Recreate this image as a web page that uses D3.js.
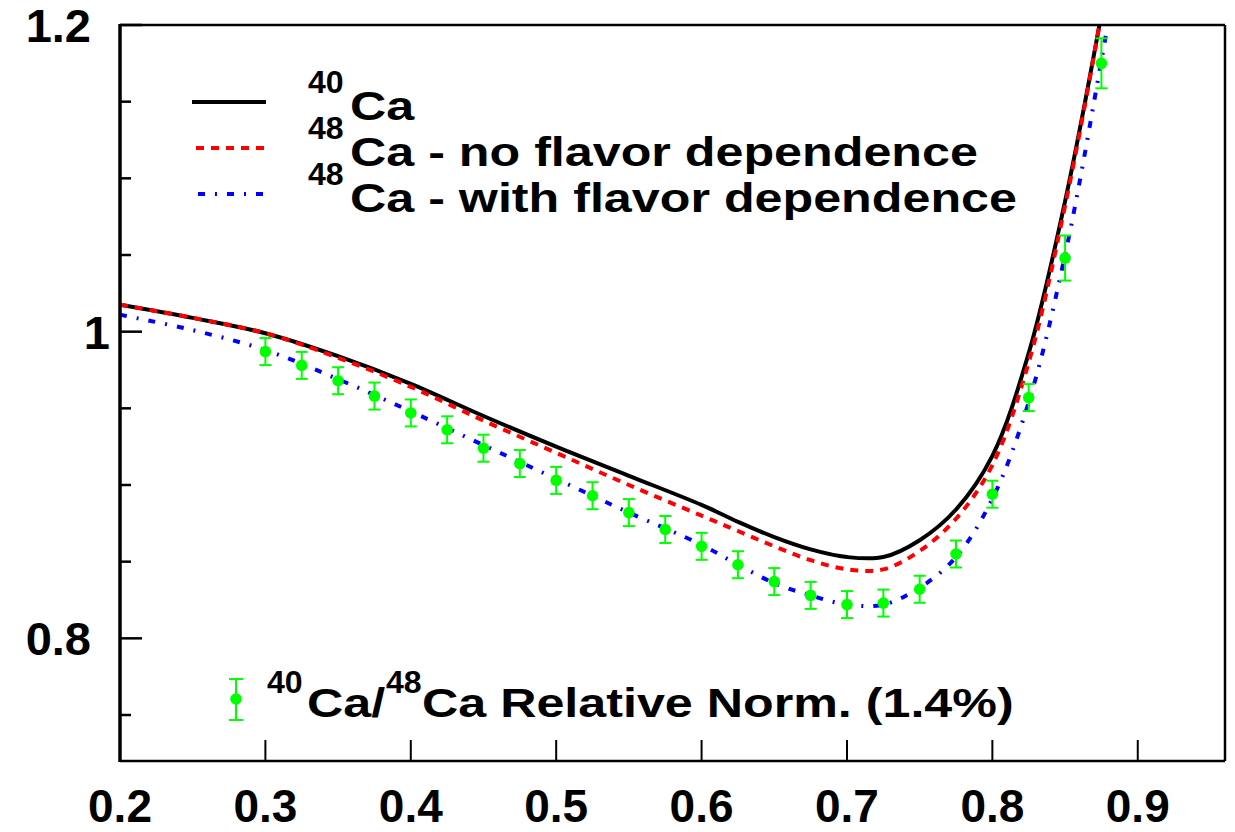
<!DOCTYPE html>
<html>
<head>
<meta charset="utf-8">
<script src="https://cdnjs.cloudflare.com/ajax/libs/d3/7.8.5/d3.min.js"></script>
<style>
  html, body { margin: 0; padding: 0; background: #fff; }
  svg { display: block; }
  text { font-family: "Liberation Sans", Arial, Helvetica, sans-serif; font-weight: bold; fill: #000; }
</style>
</head>
<body>
<svg id="chart" width="1235" height="832"></svg>
<script>
// ---------------- data ----------------
const xTickValues = [0.2, 0.3, 0.4, 0.5, 0.6, 0.7, 0.8, 0.9];
const xTickLabels = ["0.2", "0.3", "0.4", "0.5", "0.6", "0.7", "0.8", "0.9"];
const yMajorValues = [0.8, 1.0, 1.2];
const yMajorLabels = ["0.8", "1", "1.2"];
const yMinorValues = [0.75, 0.85, 0.9, 0.95, 1.05, 1.1, 1.15];

const curveX =      [0.2,    0.25,  0.3,   0.35,  0.4,   0.45,  0.5,   0.55,  0.6,   0.625, 0.65,  0.675, 0.7,   0.725, 0.75,  0.775, 0.8,   0.825, 0.85,  0.875, 0.89];
const ca40 =        [1.0176, 1.009, 0.999, 0.984, 0.966, 0.945, 0.925, 0.906, 0.887, 0.876, 0.866, 0.858, 0.853, 0.853, 0.864, 0.884, 0.919, 0.986, 1.085, 1.207, 1.29];
const ca48NoFlav =  [1.0176, 1.009, 0.999, 0.983, 0.964, 0.942, 0.921, 0.900, 0.880, 0.870, 0.860, 0.851, 0.845, 0.845, 0.857, 0.878, 0.913, 0.980, 1.082, 1.207, 1.29];
const ca48Flav =    [1.011,  1.001, 0.988, 0.969, 0.948, 0.926, 0.904, 0.882, 0.861, 0.848, 0.836, 0.828, 0.822, 0.822, 0.833, 0.853, 0.891, 0.954, 1.050, 1.177, 1.26];

const dataX =   [0.3, 0.325, 0.35, 0.375, 0.4, 0.425, 0.45, 0.475, 0.5, 0.525, 0.55, 0.575, 0.6, 0.625, 0.65, 0.675, 0.7, 0.725, 0.75, 0.775, 0.8, 0.825, 0.85, 0.875];
const dataY =   [0.987, 0.978, 0.968, 0.958, 0.947, 0.936, 0.924, 0.914, 0.903, 0.893, 0.882, 0.871, 0.860, 0.848, 0.837, 0.828, 0.822, 0.823, 0.832, 0.855, 0.894, 0.957, 1.048, 1.175];
const dataErr = [0.0088, 0.0088, 0.0088, 0.0088, 0.0088, 0.0088, 0.0088, 0.0088, 0.0088, 0.0088, 0.0088, 0.0088, 0.0088, 0.0088, 0.0088, 0.0088, 0.0088, 0.0088, 0.0088, 0.0088, 0.0088, 0.0088, 0.0147, 0.0163];

const legendSup = ["40", "48", "48"];
const legendText = ["Ca", "Ca - no flavor dependence", "Ca - with flavor dependence"];
const dataLegendParts = ["40", "Ca/", "48", "Ca Relative Norm. (1.4%)"];

// ---------------- layout ----------------
const L = 120, R = 1225, T = 25, B = 761;
const svg = d3.select("#chart");
const x = d3.scaleLinear().domain([0.2, 0.96]).range([L, R]);
const y = d3.scaleLinear().domain([0.72, 1.2]).range([B, T]);

const series = [
  { vals: ca40, color: "#000000", dash: null },
  { vals: ca48NoFlav, color: "#ff0000", dash: "8,7" },
  { vals: ca48Flav, color: "#0000ff", dash: "7,10,2,10" }
];

svg.append("defs").append("clipPath").attr("id", "plotclip")
  .append("rect").attr("x", L).attr("y", T).attr("width", R - L).attr("height", B - T);

const line = d3.line().x(d => x(d[0])).y(d => y(d[1])).curve(d3.curveCatmullRom.alpha(0.5));
const plot = svg.append("g").attr("clip-path", "url(#plotclip)");

series.forEach(s => {
  plot.append("path")
    .datum(curveX.map((cx, i) => [cx, s.vals[i]]))
    .attr("d", line)
    .attr("fill", "none")
    .attr("stroke", s.color)
    .attr("stroke-width", 4)
    .attr("stroke-dasharray", s.dash);
});

// data points
const green = "#00ff00";
const pts = plot.append("g");
dataX.forEach((dx, i) => {
  const cx = x(dx), cy = y(dataY[i]);
  const y1 = y(dataY[i] + dataErr[i]), y2 = y(dataY[i] - dataErr[i]);
  pts.append("line").attr("x1", cx).attr("x2", cx).attr("y1", y1).attr("y2", y2)
    .attr("stroke", green).attr("stroke-width", 2);
  pts.append("line").attr("x1", cx - 6).attr("x2", cx + 6).attr("y1", y1).attr("y2", y1)
    .attr("stroke", green).attr("stroke-width", 2);
  pts.append("line").attr("x1", cx - 6).attr("x2", cx + 6).attr("y1", y2).attr("y2", y2)
    .attr("stroke", green).attr("stroke-width", 2);
  pts.append("circle").attr("cx", cx).attr("cy", cy).attr("r", 5.8).attr("fill", green);
});

// ---------------- axes ----------------
const ax = svg.append("g");
ax.append("line").attr("x1", L).attr("x2", R).attr("y1", T).attr("y2", T).attr("stroke", "#000").attr("stroke-width", 2.5);
ax.append("line").attr("x1", R).attr("x2", R).attr("y1", T).attr("y2", B).attr("stroke", "#000").attr("stroke-width", 2.5);
ax.append("line").attr("x1", L).attr("x2", R).attr("y1", B).attr("y2", B).attr("stroke", "#000").attr("stroke-width", 2.5);
ax.append("line").attr("x1", L).attr("x2", L).attr("y1", T - 1).attr("y2", B + 1).attr("stroke", "#000").attr("stroke-width", 3.5);

xTickValues.forEach((v, i) => {
  ax.append("line").attr("x1", x(v)).attr("x2", x(v)).attr("y1", B).attr("y2", B - 21)
    .attr("stroke", "#000").attr("stroke-width", 2);
  ax.append("text").attr("x", x(v)).attr("y", 822).attr("text-anchor", "middle")
    .style("font-size", "46px").text(xTickLabels[i]);
});
yMajorValues.forEach((v, i) => {
  ax.append("line").attr("x1", L).attr("x2", L + 22).attr("y1", y(v)).attr("y2", y(v))
    .attr("stroke", "#000").attr("stroke-width", 2.5);
  const lx = yMajorLabels[i] === "1" ? 110 : 91;
  ax.append("text").attr("x", lx).attr("y", y(v) + 17).attr("text-anchor", "end")
    .style("font-size", "47px").text(yMajorLabels[i]);
});
yMinorValues.forEach(v => {
  ax.append("line").attr("x1", L).attr("x2", L + 11).attr("y1", y(v)).attr("y2", y(v))
    .attr("stroke", "#000").attr("stroke-width", 2.5);
});

// ---------------- legend ----------------
const sx = 1.256;
const legRows = [120, 166, 212];
const legLineStart = [192, 196, 198];
series.forEach((s, i) => {
  const ly = legRows[i] - 18;
  svg.append("line").attr("x1", legLineStart[i]).attr("x2", 266).attr("y1", ly).attr("y2", ly)
    .attr("stroke", s.color).attr("stroke-width", 4).attr("stroke-dasharray", s.dash);
  svg.append("text").attr("x", 308).attr("y", legRows[i] - 27)
    .style("font-size", "32px").text(legendSup[i]);
  svg.append("g").attr("transform", `translate(350,${legRows[i]}) scale(${sx},1)`)
    .append("text").attr("x", 0).attr("y", 0).style("font-size", "40px").text(legendText[i]);
});

const mlx = 236, mly = 699;
svg.append("line").attr("x1", mlx).attr("x2", mlx).attr("y1", mly - 20).attr("y2", mly + 21).attr("stroke", green).attr("stroke-width", 2);
svg.append("line").attr("x1", mlx - 7).attr("x2", mlx + 7).attr("y1", mly - 20).attr("y2", mly - 20).attr("stroke", green).attr("stroke-width", 2);
svg.append("line").attr("x1", mlx - 7).attr("x2", mlx + 7).attr("y1", mly + 21).attr("y2", mly + 21).attr("stroke", green).attr("stroke-width", 2);
svg.append("circle").attr("cx", mlx).attr("cy", mly).attr("r", 5.8).attr("fill", green);

svg.append("text").attr("x", 267).attr("y", 693).style("font-size", "32px").text(dataLegendParts[0]);
svg.append("g").attr("transform", `translate(307,717) scale(${sx},1)`)
  .append("text").style("font-size", "40px").text(dataLegendParts[1]);
svg.append("text").attr("x", 386).attr("y", 693).style("font-size", "32px").text(dataLegendParts[2]);
svg.append("g").attr("transform", `translate(422,717) scale(${sx},1)`)
  .append("text").style("font-size", "40px").text(dataLegendParts[3]);
</script>
</body>
</html>
